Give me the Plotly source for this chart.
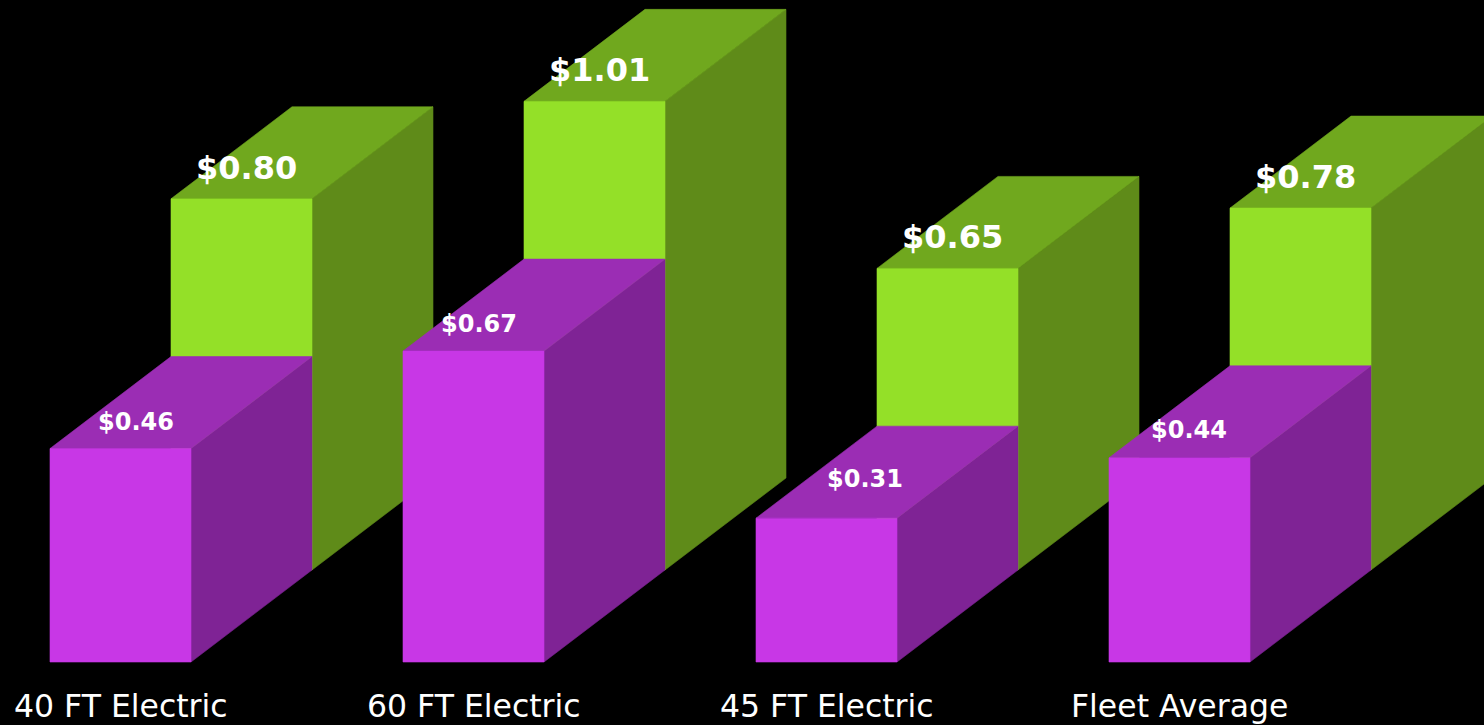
import plotly.graph_objects as go

# Cost per mile by bus type
categories = ["40 FT Electric", "60 FT Electric", "45 FT Electric", "Fleet Average"]
front_values = [0.46, 0.67, 0.31, 0.44]   # purple (front row)
back_values = [0.80, 1.01, 0.65, 0.78]    # green (back row)
front_labels = ["$0.46", "$0.67", "$0.31", "$0.44"]
back_labels = ["$0.80", "$1.01", "$0.65", "$0.78"]

# Layout geometry (in axis units: x = category slots, y = value)
PX_PER_SLOT = 353.0
PX_PER_VAL = 464.0
W = 141 / PX_PER_SLOT          # width of a bar's front face
DX = 121 / PX_PER_SLOT         # horizontal depth offset
DY = 92 / PX_PER_VAL           # vertical depth offset
FIG_W, FIG_H = 1484, 725
X_MIN = -50 / PX_PER_SLOT
X_MAX = X_MIN + FIG_W / PX_PER_SLOT
Y_MAX = 662 / PX_PER_VAL
Y_MIN = Y_MAX - FIG_H / PX_PER_VAL

PURPLE = {"front": "#C837E6", "top": "#9B2DB4", "side": "#7F2395"}
GREEN = {"front": "#94E028", "top": "#70A81E", "side": "#5F8B19"}

# label nudges in pixels (x right, y up)
front_label_shift = [(15, 27), (5, 27), (38, 39), (9, 28)]
back_label_shift = [(5, 31), (5, 31), (5, 31), (5, 31)]


def box_faces(i, value, depth):
    x0 = i + depth * DX
    y0 = depth * DY
    y1 = y0 + value
    front = [(x0, y0), (x0 + W, y0), (x0 + W, y1), (x0, y1)]
    top = [(x0, y1), (x0 + W, y1), (x0 + W + DX, y1 + DY), (x0 + DX, y1 + DY)]
    side = [(x0 + W, y0), (x0 + W + DX, y0 + DY), (x0 + W + DX, y1 + DY), (x0 + W, y1)]
    return {"front": front, "top": top, "side": side}


def face_trace(polys, color):
    xs, ys = [], []
    for poly in polys:
        for (x, y) in poly + [poly[0]]:
            xs.append(x)
            ys.append(y)
        xs.append(None)
        ys.append(None)
    return go.Scatter(
        x=xs, y=ys, mode="lines", fill="toself", fillcolor=color,
        line=dict(color=color, width=0.6), hoverinfo="skip", showlegend=False,
    )


fig = go.Figure()

for values, depth, colors in ((back_values, 1, GREEN), (front_values, 0, PURPLE)):
    faces = [box_faces(i, v, depth) for i, v in enumerate(values)]
    for face in ("side", "top", "front"):
        fig.add_trace(face_trace([f[face] for f in faces], colors[face]))

annotations = []
for i, (v, t) in enumerate(zip(back_values, back_labels)):
    sx, sy = back_label_shift[i]
    annotations.append(dict(
        x=i + DX + W / 2, y=DY + v, xref="x", yref="y", text=f"<b>{t}</b>",
        showarrow=False, xshift=sx, yshift=sy,
        font=dict(family="DejaVu Sans", size=32, color="white"),
    ))
for i, (v, t) in enumerate(zip(front_values, front_labels)):
    sx, sy = front_label_shift[i]
    annotations.append(dict(
        x=i + W / 2, y=v, xref="x", yref="y", text=f"<b>{t}</b>",
        showarrow=False, xshift=sx, yshift=sy,
        font=dict(family="DejaVu Sans", size=24, color="white"),
    ))
for i, c in enumerate(categories):
    annotations.append(dict(
        x=i + W / 2, y=-44 / PX_PER_VAL, xref="x", yref="y", text=c,
        showarrow=False, yanchor="middle",
        font=dict(family="DejaVu Sans", size=31.5, color="white"),
    ))

fig.update_layout(
    width=FIG_W, height=FIG_H,
    margin=dict(l=0, r=0, t=0, b=0),
    paper_bgcolor="black", plot_bgcolor="black",
    xaxis=dict(range=[X_MIN, X_MAX], visible=False, fixedrange=True),
    yaxis=dict(range=[Y_MIN, Y_MAX], visible=False, fixedrange=True),
    annotations=annotations,
)

fig.write_html("out.html")
